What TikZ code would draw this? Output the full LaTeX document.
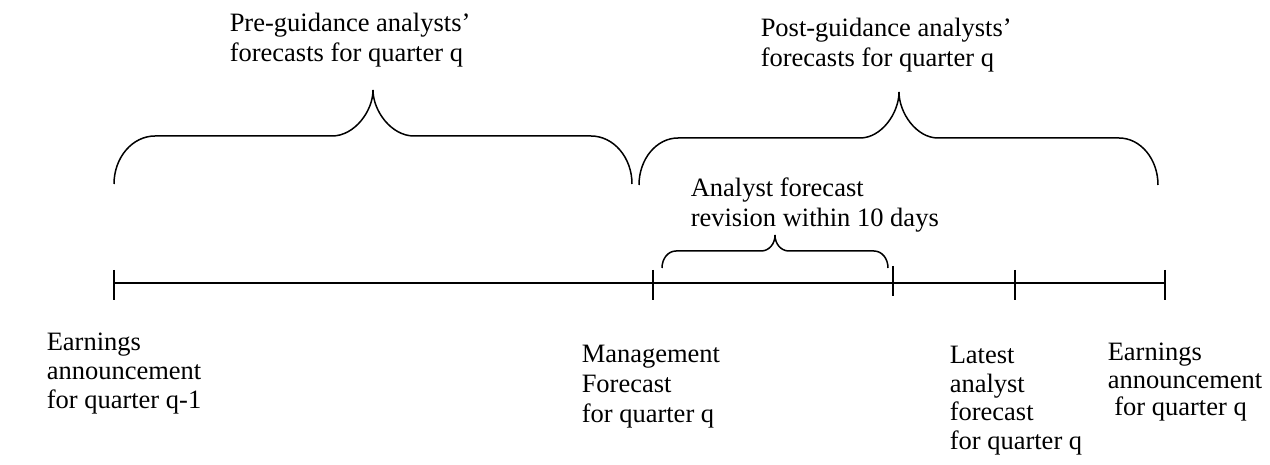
\documentclass[tikz,border=0pt]{standalone}
\usepackage{fontspec}
\setmainfont{Liberation Serif}
\begin{document}
\begin{tikzpicture}[x=1pt,y=-1pt,line width=1.5pt,
  lbl/.style={anchor=north west,inner sep=0pt,align=left,font=\fontsize{26.5}{29}\selectfont},
  bracepath/.style={line width=1.5pt},
  tickmark/.style={line width=1.5pt}]
\useasboundingbox (0,0) rectangle (1270,465);
% timeline points
\coordinate (t0) at (114,283);
\coordinate (t1) at (653,283);
\coordinate (t2) at (893,283);
\coordinate (t3) at (1015,283);
\coordinate (t4) at (1165,283);
\draw[tickmark] (t0) -- (t4);
\foreach \p in {t0,t1,t3,t4} {\draw[tickmark] ([yshift=13pt]\p) -- ([yshift=-17pt]\p);}
\draw[tickmark] ([yshift=17pt]t2) -- ([yshift=-13pt]t2);
% braces
\draw[bracepath] (114,184) .. controls (114,157.5) and (132.4,136) .. (155,136) -- (332,136)
  .. controls (354.6,136) and (373,111) .. (373,90)
  .. controls (373,111) and (391.4,136) .. (414,136) -- (591,136)
  .. controls (613.6,136) and (632,157.5) .. (632,184);
\draw[bracepath] (639,185) .. controls (639,159) and (656.5,138) .. (678,138) -- (860,138)
  .. controls (881.5,138) and (899,113) .. (899,92)
  .. controls (899,113) and (916.5,138) .. (938,138) -- (1119,138)
  .. controls (1140.5,138) and (1158,159) .. (1158,185);
\draw[bracepath] (662,268) .. controls (662,258.6) and (668,251) .. (676,251) -- (761,251)
  .. controls (769,251) and (775,244) .. (775,235)
  .. controls (775,244) and (781,251) .. (789,251) -- (874,251)
  .. controls (882,251) and (888,258.6) .. (888,268);
% labels
\node[lbl,font=\fontsize{26.5}{30}\selectfont] (pre) at (229,12.5) {Pre-guidance analysts’\\forecasts for quarter q};
\node[lbl,font=\fontsize{26.5}{30}\selectfont] (post) at (760,17.5) {Post-guidance analysts’\\forecasts for quarter q};
\node[lbl,font=\fontsize{26.5}{30}\selectfont] (rev) at (690,177.5) {Analyst forecast\\revision within 10 days};
\node[lbl] (ea1) at (46,332.5) {Earnings\\announcement\\for quarter q-1};
\node[lbl,font=\fontsize{26.5}{30}\selectfont] (mf) at (581,344.5) {Management\\Forecast\\for quarter q};
\node[lbl,font=\fontsize{26.5}{28.5}\selectfont] (laf) at (949,345.5) {Latest\\analyst\\forecast\\for quarter q};
\node[lbl,font=\fontsize{26.5}{27.5}\selectfont] (ea2) at (1107,342.5) {Earnings\\announcement\\\hspace*{6.6pt}for quarter q};
\end{tikzpicture}
\end{document}
